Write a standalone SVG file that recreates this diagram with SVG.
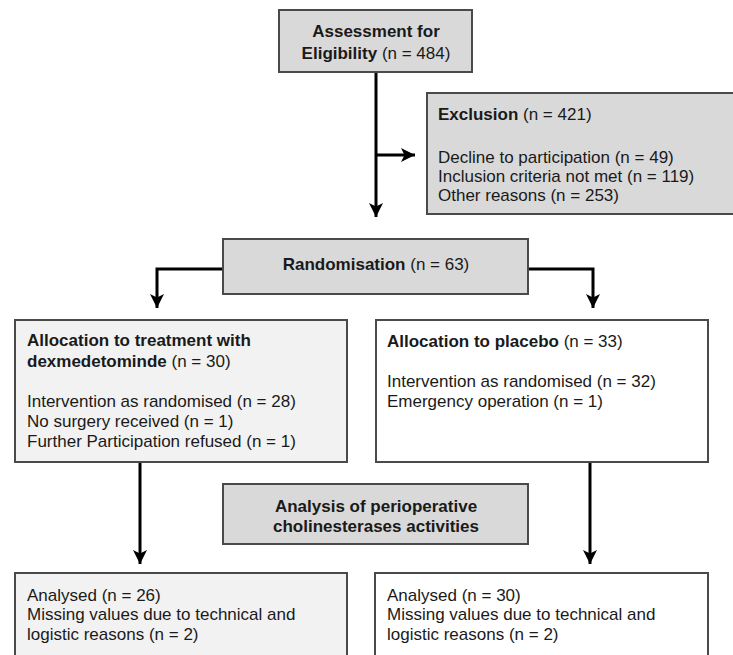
<svg xmlns="http://www.w3.org/2000/svg" width="733" height="655" viewBox="0 0 733 655">
<defs>
<style>
text{font-family:"Liberation Sans",Arial,Helvetica,sans-serif;font-size:17px;fill:#1a1a1a}
.b{font-weight:bold}
.c{text-anchor:middle}
.box{stroke:#4a4a4a;stroke-width:2}
.gray{fill:#d9d9d9}
.light{fill:#f2f2f2}
.white{fill:#ffffff}
.conn{fill:none;stroke:#000;stroke-width:3}
</style>
<marker id="ah" viewBox="0 0 16 16" refX="15" refY="8" markerWidth="16" markerHeight="16" markerUnits="userSpaceOnUse" orient="auto">
<path d="M1,1 L15,8 L1,15 L4.5,8 Z" fill="#000"/>
</marker>
</defs>
<rect width="733" height="655" fill="#fff"/>
<g id="connectors">
<path class="conn" d="M376,72 V217" marker-end="url(#ah)"/>
<path class="conn" d="M376,155 H415" marker-end="url(#ah)"/>
<path class="conn" d="M223,269 H157 V308" marker-end="url(#ah)"/>
<path class="conn" d="M528,269 H593 V308" marker-end="url(#ah)"/>
<path class="conn" d="M140,462 V564" marker-end="url(#ah)"/>
<path class="conn" d="M590,462 V564" marker-end="url(#ah)"/>
</g>
<g id="assessment">
<rect class="box gray" x="279" y="10" width="193" height="62"/>
<text class="c b" x="376" y="37">Assessment for</text>
<text class="c" x="376" y="59"><tspan class="b">Eligibility</tspan> (n = 484)</text>
</g>
<g id="exclusion">
<rect class="box gray" x="427" y="93" width="320" height="121"/>
<text x="438" y="120"><tspan class="b">Exclusion</tspan> (n = 421)</text>
<text x="438" y="163">Decline to participation (n = 49)</text>
<text x="438" y="182">Inclusion criteria not met (n = 119)</text>
<text x="438" y="201">Other reasons (n = 253)</text>
</g>
<g id="randomisation">
<rect class="box gray" x="223" y="239" width="305" height="55"/>
<text class="c" x="376" y="270"><tspan class="b">Randomisation</tspan> (n = 63)</text>
</g>
<g id="allocation-dex">
<rect class="box light" x="15" y="320" width="332" height="142"/>
<text class="b" x="27" y="346">Allocation to treatment with</text>
<text x="27" y="367"><tspan class="b">dexmedetominde</tspan> (n = 30)</text>
<text x="27" y="407">Intervention as randomised (n = 28)</text>
<text x="27" y="427">No surgery received (n = 1)</text>
<text x="27" y="447">Further Participation refused (n = 1)</text>
</g>
<g id="allocation-placebo">
<rect class="box white" x="376" y="320" width="332" height="142"/>
<text x="387" y="347"><tspan class="b">Allocation to placebo</tspan> (n = 33)</text>
<text x="387" y="387">Intervention as randomised (n = 32)</text>
<text x="387" y="407">Emergency operation (n = 1)</text>
</g>
<g id="analysis">
<rect class="box gray" x="223" y="484" width="305" height="60"/>
<text class="c b" x="376" y="512">Analysis of perioperative</text>
<text class="c b" x="376" y="532">cholinesterases activities</text>
</g>
<g id="analysed-dex">
<rect class="box light" x="15" y="573" width="332" height="100"/>
<text x="27" y="601">Analysed (n = 26)</text>
<text x="27" y="620">Missing values due to technical and</text>
<text x="27" y="640">logistic reasons (n = 2)</text>
</g>
<g id="analysed-placebo">
<rect class="box white" x="375" y="573" width="333" height="100"/>
<text x="387" y="601">Analysed (n = 30)</text>
<text x="387" y="620">Missing values due to technical and</text>
<text x="387" y="640">logistic reasons (n = 2)</text>
</g>
</svg>
